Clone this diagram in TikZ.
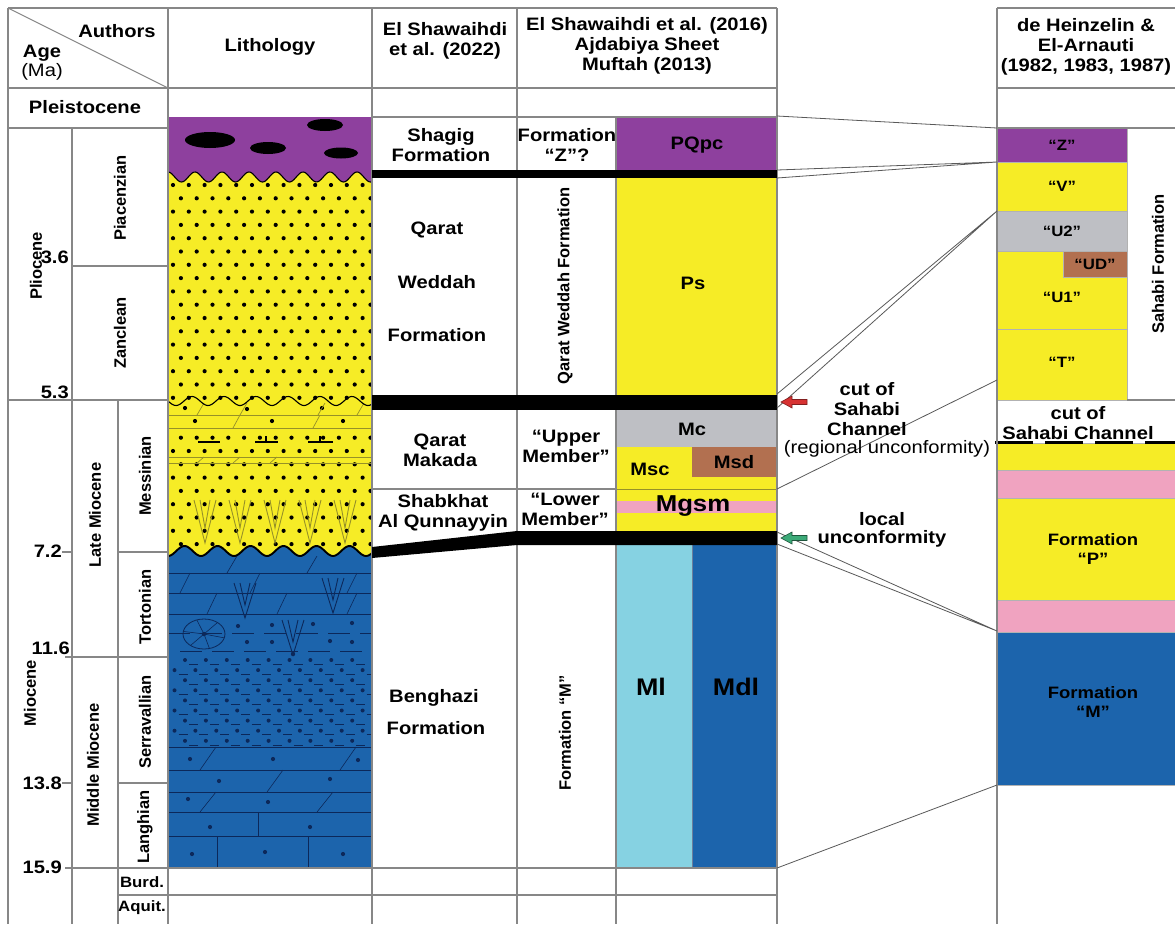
\documentclass[tikz,border=0pt]{standalone}
\usepackage{fontspec}
\setmainfont{Liberation Sans}[FakeStretch=1.12]
\newfontfamily\rotfont{Liberation Sans}
\usetikzlibrary{calc}
\definecolor{purp}{RGB}{142,64,158}
\definecolor{yel}{RGB}{246,236,38}
\definecolor{dblue}{RGB}{28,100,172}
\definecolor{lblue}{RGB}{134,210,226}
\definecolor{greyu}{RGB}{190,191,196}
\definecolor{brn}{RGB}{178,112,80}
\definecolor{pnk}{RGB}{240,163,192}
\definecolor{gridc}{RGB}{135,135,135}
\definecolor{olivec}{RGB}{150,145,40}
\definecolor{navy}{RGB}{12,40,90}
\definecolor{arrred}{RGB}{215,50,50}
\definecolor{arrgrn}{RGB}{60,170,120}
\begin{document}
\begin{tikzpicture}[x=1pt,y=-1pt,
  gridline/.style={draw=gridc,line width=1.1pt},
  conn/.style={draw=gray!70!black,line width=0.8pt},
  unit/.style={draw=black!30,line width=0.5pt},
  lbl/.style={font=\fontsize{18}{20}\selectfont\bfseries,align=center,inner sep=0pt},
  lblreg/.style={font=\fontsize{18}{20}\selectfont,align=center,inner sep=0pt},
  small/.style={font=\fontsize{15}{18}\selectfont\bfseries,align=center,inner sep=0pt},
  big/.style={font=\fontsize{23}{26}\selectfont\bfseries,align=center,inner sep=0pt},
  rot/.style={font=\rotfont\fontsize{16.5}{19}\selectfont\bfseries,rotate=90,inner sep=0pt},
  ma/.style={font=\fontsize{18}{20}\selectfont\bfseries,anchor=east,inner sep=0pt},
  vsign/.style={line width=0.9pt},
]
\useasboundingbox (0,0) rectangle (1175,924);
\fill[white] (0,0) rectangle (1175,924);

% ---------------- lithology column ----------------
\fill[yel] (168,117) rectangle (372,560);
\begin{scope}
  \clip (168,117) rectangle (372,560);
  % quartz sand dots
  \foreach \j [evaluate=\j as \yy using 185+13.3*\j,
               evaluate=\j as \off using {mod(\j,2)*7.9}] in {0,...,16,19,20,...,27}
    \foreach \i in {0,...,12}
      \fill (173+\off+15.8*\i,\yy) circle[radius=2.1pt];
  \foreach \p in {(185,408),(247,409),(322,408),(195,421),(272,421),(343,421)}
    \fill \p circle[radius=2.1pt];
  % bedding in the Messinian sands
  \draw[olivec,line width=0.7pt] (168,415)--(372,415) (168,428)--(372,428)
        (168,457)--(372,457) (168,463)--(372,463);
  \foreach \sx/\sy/\sh in {197/415/12,240/415/12,318/415/12,357/415/12,233/428/13,313/428/13,197/463/6,233/463/6,270/463/6}
    \draw[olivec,line width=0.7pt] (\sx,\sy) -- (\sx+7,\sy-\sh);
  % gypsum signs
  \foreach \vx in {205,240,275,310,345}{
    \draw[olivec,vsign] (\vx-11,500)--(\vx,543)--(\vx+11,500);
    \draw[olivec,vsign] (\vx-5,500)--(\vx,528)--(\vx+5,500);
  }
  % black shale lenses
  \draw[line width=2.2pt] (198,442)--(220,442) (255,442)--(278,442) (308,442)--(333,442);
  \draw[line width=1.5pt] (266,436)--(266,442) (320,436)--(320,442);
\end{scope}
% unconformity at 5.3 Ma
\draw[line width=1.1pt] plot[domain=168:372,samples=150] (\x,{401+4.5*sin(11.25*(\x-168))});
% conglomerate on top
\fill[purp] (168,117) -- (372,117) -- plot[domain=372:168,samples=150] (\x,{177-5*cos(13.333*(\x-168))}) -- cycle;
\draw[line width=1.1pt] plot[domain=168:372,samples=150] (\x,{177-5*cos(13.333*(\x-168))});
\fill (210,140) ellipse[x radius=25pt,y radius=8pt];
\fill (268,148) ellipse[x radius=18pt,y radius=6pt];
\fill (325,125) ellipse[x radius=18pt,y radius=6pt];
\fill (341,153) ellipse[x radius=17pt,y radius=5.5pt];
% carbonates below 7.2 Ma
\fill[dblue] plot[domain=168:372,samples=150] (\x,{551+5*cos(10.909*(\x-168))}) -- (372,868) -- (168,868) -- cycle;
\begin{scope}[navy,line width=0.6pt]
  \clip (168,556) rectangle (372,868);
  \draw (168,573)--(372,573) (168,593)--(372,593) (168,614)--(372,614);
  \draw[dash pattern=on 22pt off 10pt] (168,633)--(372,633) (180,651)--(372,651);
  \foreach \sx/\sy/\sh in {227/573/17,307/573/17,180/593/20,250/593/20,347/593/20,207/614/21,277/614/21,347/614/21}
    \draw (\sx,\sy) -- (\sx+10,\sy-\sh);
  % dolomite signs
  \foreach \vx/\vt in {245/583,333/578,293/620}{
    \draw[vsign] (\vx-11,\vt)--(\vx,\vt+35)--(\vx+11,\vt);
    \draw[vsign] (\vx-5,\vt)--(\vx,\vt+22)--(\vx+5,\vt);
  }
  \fill (293,654) circle[radius=2.2pt];
  % fossil
  \draw[line width=0.8pt] (204,634) ellipse[x radius=21pt,y radius=15pt];
  \foreach \ang in {15,75,130,190,250,310}
    \draw ($(204,634)$) -- ($(204,634)+({21*cos(\ang)},{15*sin(\ang)})$);
  \fill (204,634) circle[radius=2.2pt];
  \foreach \p in {(238,626),(272,625),(313,624),(352,623),(247,642),(272,642),(330,641),(352,642)}
    \fill \p circle[radius=2.1pt];
  % sandy limestone
  \foreach \j [evaluate=\j as \yy using 660+10.1*\j,
               evaluate=\j as \off using {mod(\j,2)*(-10.5)}] in {0,...,8}
    \foreach \i in {0,...,9}{
      \fill (185+\off+20.9*\i,\yy) circle[radius=2pt];
      \draw (189+\off+20.9*\i,\yy+4) -- (198+\off+20.9*\i,\yy+4);
    }
  % limestone beds
  \draw (168,747)--(372,747) (168,770)--(372,770) (168,792)--(372,792)
        (168,812)--(372,812) (168,836)--(372,836);
  \foreach \sx/\sy/\sh in {200/770/23,340/770/23,267/792/22,200/812/20,317/812/20}
    \draw (\sx,\sy) -- (\sx+16,\sy-\sh);
  \draw (258,812)--(258,836) (217,836)--(217,868) (308,836)--(308,868);
  \foreach \p in {(190,759),(273,759),(358,760),(219,781),(330,779),(188,799),(268,802),(210,827),(310,827),(192,854),(265,852),(343,854)}
    \fill \p circle[radius=2.1pt];
\end{scope}
\draw[line width=1.9pt] plot[domain=168:372,samples=150] (\x,{551+5*cos(10.909*(\x-168))});

% ---------------- El Shawaihdi et al. (2016) coloured column ----------------
\fill[purp] (616,117) rectangle (777,170);
\fill[yel] (616,178) rectangle (777,395);
\fill[greyu] (616,410) rectangle (777,447);
\fill[yel] (616,447) rectangle (777,531);
\fill[brn] (692,447) rectangle (777,477);
\fill[pnk] (616,501) rectangle (777,513);
\draw[olivec,line width=0.6pt] (616,489)--(777,489);
\fill[lblue] (616,545) rectangle (692,868);
\fill[dblue] (692,545) rectangle (777,868);
\draw[navy!60,line width=0.5pt] (692,545)--(692,868);

% ---------------- de Heinzelin & El-Arnauti column ----------------
\filldraw[purp,unit] (997,128) rectangle (1127,162);
\filldraw[yel,unit] (997,162) rectangle (1127,211);
\filldraw[greyu,unit] (997,211) rectangle (1127,251);
\filldraw[yel,unit] (997,251) rectangle (1127,329);
\filldraw[brn,unit] (1063,251) rectangle (1127,277);
\filldraw[yel,unit] (997,329) rectangle (1127,400);
\filldraw[yel,unit] (997,443) rectangle (1175,470);
\filldraw[pnk,unit] (997,470) rectangle (1175,498);
\filldraw[yel,unit] (997,498) rectangle (1175,600);
\filldraw[pnk,unit] (997,600) rectangle (1175,632);
\filldraw[dblue,unit] (997,632) rectangle (1175,785);
\draw[line width=3pt,dash pattern=on 38pt off 12pt] (995,442) -- (1175,442);

% ---------------- table rules ----------------
\draw[gridline] (8,8)--(8,924) (72,128)--(72,924) (118,400)--(118,924)
  (168,8)--(168,924) (372,8)--(372,924) (517,8)--(517,924) (616,117)--(616,924)
  (777,8)--(777,924) (997,8)--(997,924);
\draw[gridline] (8,8)--(777,8) (997,8)--(1175,8) (8,88)--(777,88) (997,88)--(1175,88)
  (372,117)--(777,117) (8,128)--(168,128) (997,128)--(1175,128)
  (72,266)--(168,266) (8,400)--(168,400) (1127,400)--(1175,400)
  (372,489)--(616,489) (118,552)--(168,552) (62,552)--(72,552)
  (65,657)--(168,657) (118,783)--(168,783) (62,783)--(72,783)
  (65,868)--(777,868) (118,895)--(777,895);
\draw[gridline] (8,8)--(168,88);

% ---------------- unconformity bars ----------------
\fill (372,170) rectangle (777,178);
\fill (372,395) rectangle (777,410);
\fill (372,547) -- (517,531) -- (777,531) -- (777,545) -- (517,545) -- (372,558) -- cycle;

% ---------------- correlation lines ----------------
\coordinate (pqTop) at (777,116);  \coordinate (zTop) at (997,128);
\coordinate (barAa) at (777,170);  \coordinate (barAb) at (777,178);
\coordinate (zBot) at (997,162);
\coordinate (barBa) at (777,394);  \coordinate (barBb) at (777,408);
\coordinate (vBot) at (997,211);
\coordinate (mscBot) at (777,489); \coordinate (tMid) at (997,380);
\coordinate (barCa) at (777,532);  \coordinate (barCb) at (777,544);
\coordinate (pBot) at (997,631);
\coordinate (mdlBot) at (777,868); \coordinate (mBot) at (997,785);
\draw[conn] (pqTop)--(zTop) (barAa)--(zBot) (barAb)--(zBot)
  (barBa)--(vBot) (barBb)--(vBot) (mscBot)--(tMid)
  (barCa)--(pBot) (barCb)--(pBot) (mdlBot)--(mBot);

% ---------------- arrows ----------------
\filldraw[fill=arrred,draw=arrred!60!black,line width=0.6pt]
  (781,402) -- (792,396) -- (792,399.5) -- (807,399.5) -- (807,404.5) -- (792,404.5) -- (792,408) -- cycle;
\filldraw[fill=arrgrn,draw=arrgrn!50!black,line width=0.6pt]
  (781,538) -- (792,532) -- (792,535.5) -- (807,535.5) -- (807,540.5) -- (792,540.5) -- (792,544) -- cycle;

% ---------------- header ----------------
\node[lbl] (hAuth) at (117,31) {Authors};
\node[lbl] (hAge) at (42,53) {Age};
\node[lblreg] (hMa) at (42,72) {(Ma)};
\node[lbl] (hLith) at (270,47) {Lithology};
\node[lbl] (hTwo) at (445,41) {El Shawaihdi\\et al. (2022)};
\node[lbl] (hThree) at (647,46) {El Shawaihdi et al. (2016)\\Ajdabiya Sheet\\Muftah (2013)};
\node[lbl] (hFour) at (1086,47) {de Heinzelin \&\\El-Arnauti\\(1982, 1983, 1987)};
\node[lbl] (pleist) at (85,107) {Pleistocene};

% ---------------- ages ----------------
\node[rot] (plio) at (36,266) {Pliocene};
\node[rot] (piac) at (120,198) {Piacenzian};
\node[rot] (zanc) at (120,333) {Zanclean};
\node[rot] (mio) at (30,693) {Miocene};
\node[rot] (latem) at (95,515) {Late Miocene};
\node[rot] (midm) at (93,765) {Middle Miocene};
\node[rot] (mess) at (145,476) {Messinian};
\node[rot] (tort) at (145,607) {Tortonian};
\node[rot] (serr) at (145,722) {Serravallian};
\node[rot] (lang) at (145,827) {Langhian};
\node[ma] (a36) at (69,257) {3.6};
\node[ma] (a53) at (69,392) {5.3};
\node[ma] (a72) at (62,551) {7.2};
\node[ma] (a116) at (70,648) {11.6};
\node[ma] (a138) at (62,783) {13.8};
\node[ma] (a159) at (62,867) {15.9};
\node[small] (burd) at (142,882) {Burd.};
\node[small] (aquit) at (142,908) {Aquit.};

% ---------------- El Shawaihdi et al. (2022) ----------------
\node[lbl] (shagig) at (441,145) {Shagig\\Formation};
\node[lbl] (qw1) at (437,230) {Qarat};
\node[lbl] (qw2) at (437,282) {Weddah};
\node[lbl] (qw3) at (437,335) {Formation};
\node[lbl] (qmak) at (440,450) {Qarat\\Makada};
\node[lbl] (shab) at (443,513) {Shabkhat\\Al Qunnayyin};
\node[lbl] (bg1) at (434,698) {Benghazi};
\node[lbl] (bg2) at (436,728) {Formation};

% ---------------- El Shawaihdi et al. (2016) ----------------
\node[lbl] (fz) at (567,145) {Formation\\“Z”?};
\node[lbl] (pqpc) at (697,145) {PQpc};
\node[rot] (qwf) at (565,286) {Qarat Weddah Formation};
\node[lbl] (ps) at (693,283) {Ps};
\node[lbl] (upm) at (566,446) {“Upper\\Member”};
\node[lbl] (mc) at (692,429) {Mc};
\node[lbl] (msc) at (650,469) {Msc};
\node[lbl] (msd) at (734,462) {Msd};
\node[lbl] (lowm) at (565,509) {“Lower\\Member”};
\node[big] (mgsm) at (693,506) {Mgsm};
\node[rot] (fm) at (565,733) {Formation “M”};
\node[big,font=\fontsize{24}{26}\selectfont\bfseries] (ml) at (651,687) {Ml};
\node[big,font=\fontsize{24}{26}\selectfont\bfseries] (mdl) at (736,687) {Mdl};

% ---------------- unconformity notes ----------------
\node[lbl] (c1) at (867,389) {cut of};
\node[lbl] (c2) at (867,409) {Sahabi};
\node[lbl] (c3) at (867,429) {Channel};
\node[lblreg] (c4) at (887,449) {(regional unconformity)};
\node[lbl] (l1) at (882,519) {local};
\node[lbl] (l2) at (882,539) {unconformity};

% ---------------- de Heinzelin & El-Arnauti units ----------------
\node[small] (uz) at (1062,145) {“Z”};
\node[small] (uv) at (1062,186) {“V”};
\node[small] (uu2) at (1062,231) {“U2”};
\node[small] (uud) at (1095,264) {“UD”};
\node[small] (uu1) at (1062,297) {“U1”};
\node[small] (ut) at (1062,362) {“T”};
\node[rot] (sahf) at (1158,264) {Sahabi Formation};
\node[lbl] (cut) at (1078,423) {cut of\\Sahabi Channel};
\node[lbl,font=\fontsize{16.5}{19}\selectfont\bfseries] (fp) at (1093,549) {Formation\\“P”};
\node[lbl,font=\fontsize{16.5}{19}\selectfont\bfseries] (fmm) at (1093,702) {Formation\\“M”};
\end{tikzpicture}
\end{document}
